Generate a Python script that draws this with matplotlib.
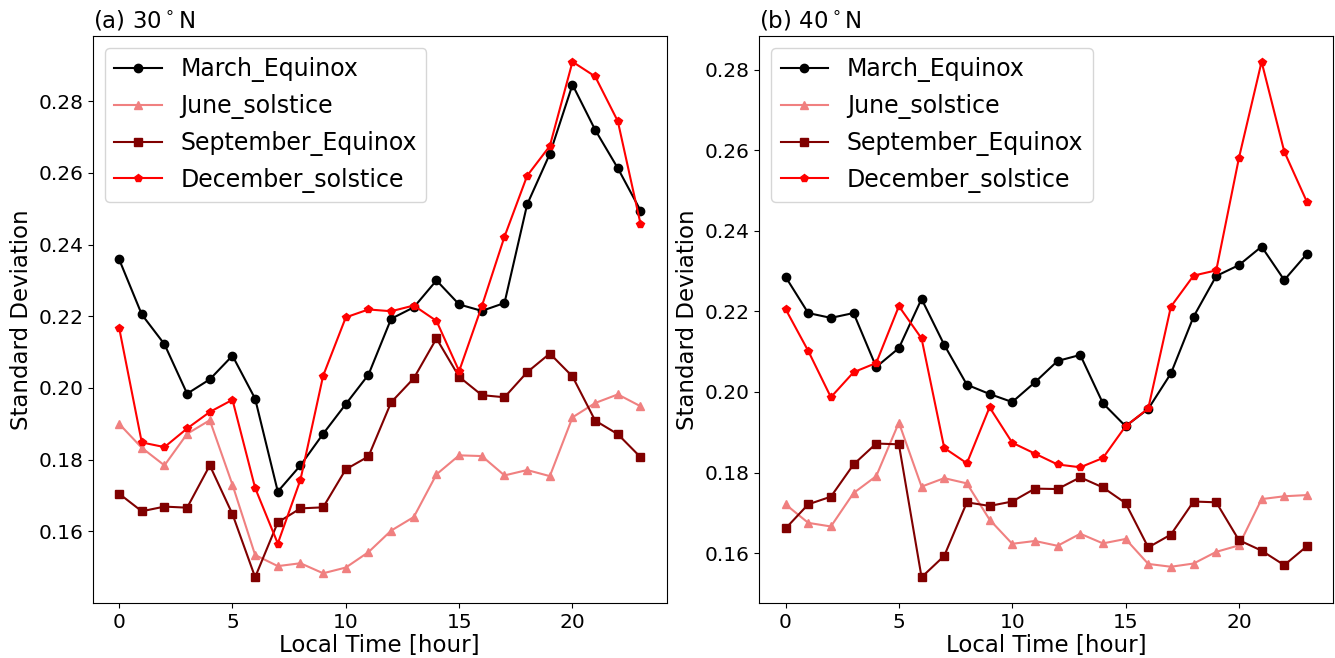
import matplotlib
matplotlib.use("Agg")
import matplotlib.pyplot as plt

# ---------------- data ----------------
HOURS = list(range(24))

# (a) 30 N
MAR_30 = [0.2359, 0.2205, 0.2122, 0.1984, 0.2024, 0.2090, 0.1970, 0.1711,
          0.1784, 0.1872, 0.1955, 0.2037, 0.2193, 0.2225, 0.2300, 0.2233,
          0.2215, 0.2237, 0.2512, 0.2653, 0.2846, 0.2720, 0.2613, 0.2495]
JUN_30 = [0.1900, 0.1833, 0.1784, 0.1872, 0.1910, 0.1730, 0.1534, 0.1503,
          0.1511, 0.1483, 0.1499, 0.1542, 0.1602, 0.1640, 0.1759, 0.1812,
          0.1810, 0.1756, 0.1771, 0.1754, 0.1918, 0.1958, 0.1982, 0.1949]
SEP_30 = [0.1705, 0.1656, 0.1669, 0.1666, 0.1784, 0.1648, 0.1472, 0.1625,
          0.1664, 0.1667, 0.1773, 0.1809, 0.1960, 0.2027, 0.2138, 0.2031,
          0.1980, 0.1974, 0.2044, 0.2096, 0.2032, 0.1909, 0.1871, 0.1807]
DEC_30 = [0.2168, 0.1848, 0.1835, 0.1887, 0.1933, 0.1967, 0.1721, 0.1566,
          0.1744, 0.2034, 0.2197, 0.2219, 0.2214, 0.2230, 0.2187, 0.2047,
          0.2228, 0.2422, 0.2592, 0.2675, 0.2910, 0.2869, 0.2744, 0.2458]

# (b) 40 N
MAR_40 = [0.2286, 0.2196, 0.2184, 0.2196, 0.2062, 0.2109, 0.2231, 0.2117,
          0.2018, 0.1995, 0.1975, 0.2024, 0.2077, 0.2092, 0.1972, 0.1915,
          0.1958, 0.2046, 0.2187, 0.2288, 0.2315, 0.2361, 0.2278, 0.2343]
JUN_40 = [0.1721, 0.1675, 0.1666, 0.1749, 0.1791, 0.1924, 0.1765, 0.1786,
          0.1773, 0.1683, 0.1623, 0.1630, 0.1618, 0.1648, 0.1624, 0.1635,
          0.1573, 0.1566, 0.1574, 0.1603, 0.1619, 0.1734, 0.1741, 0.1744]
SEP_40 = [0.1661, 0.1721, 0.1740, 0.1820, 0.1872, 0.1870, 0.1540, 0.1593,
          0.1726, 0.1717, 0.1728, 0.1760, 0.1759, 0.1788, 0.1763, 0.1724,
          0.1614, 0.1646, 0.1728, 0.1726, 0.1632, 0.1606, 0.1570, 0.1617]
DEC_40 = [0.2206, 0.2102, 0.1987, 0.2049, 0.2072, 0.2213, 0.2133, 0.1861,
          0.1823, 0.1962, 0.1874, 0.1847, 0.1820, 0.1813, 0.1836, 0.1915,
          0.1959, 0.2212, 0.2289, 0.2302, 0.2581, 0.2820, 0.2597, 0.2472]

LABELS = ["March_Equinox", "June_solstice", "September_Equinox", "December_solstice"]
TITLES = ["(a) 30$^\\circ$N", "(b) 40$^\\circ$N"]

# ---------------- style ----------------
STYLES = [
    dict(color="black", marker="o"),
    dict(color="lightcoral", marker="^"),
    dict(color="maroon", marker="s"),
    dict(color="red", marker="p"),
]

fig, axes = plt.subplots(1, 2, figsize=(13.35, 6.58), dpi=100)
fig.subplots_adjust(left=0.0697, right=0.9985, top=0.9453, bottom=0.0836, wspace=0.162)

panels = [
    (MAR_30, JUN_30, SEP_30, DEC_30),
    (MAR_40, JUN_40, SEP_40, DEC_40),
]

for ax, series, title in zip(axes, panels, TITLES):
    for vals, label, st in zip(series, LABELS, STYLES):
        ax.plot(HOURS, vals, label=label, **st)
    ax.set_title(title, loc="left", fontsize=16.5)
    ax.set_xlabel("Local Time [hour]", fontsize=16.5, labelpad=2)
    ax.set_ylabel("Standard Deviation", fontsize=16.5)
    ax.tick_params(labelsize=14.5)
    ax.set_xticks([0, 5, 10, 15, 20])
    ax.legend(loc="upper left", fontsize=17)

fig.savefig("out.png", dpi=100)
